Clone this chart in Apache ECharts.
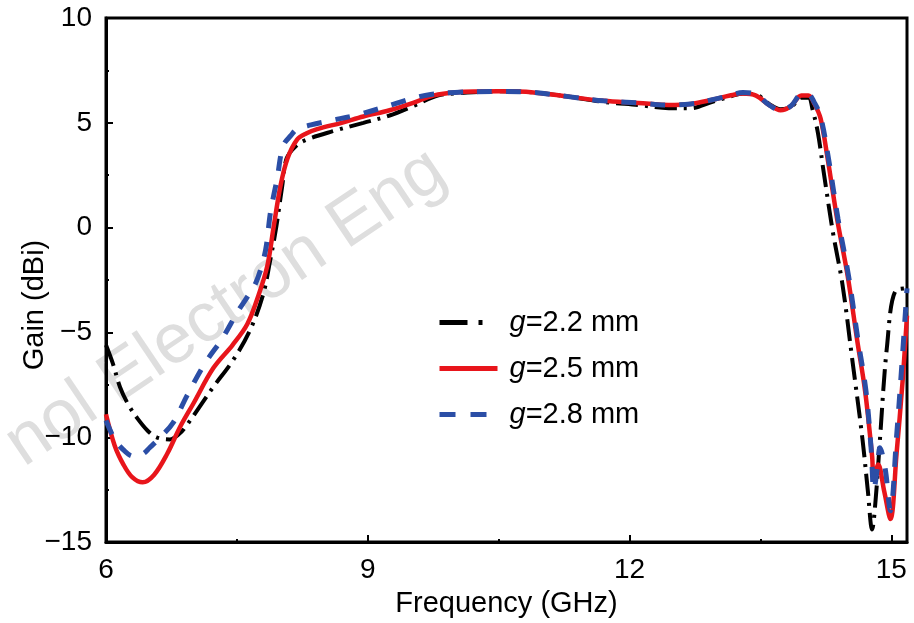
<!DOCTYPE html>
<html>
<head>
<meta charset="utf-8">
<script src="https://cdn.jsdelivr.net/npm/echarts@6/dist/echarts.min.js"></script>
<style>
html,body{margin:0;padding:0;background:#fff;}
#c{width:914px;height:623px;}
</style>
</head>
<body>
<div id="c"></div>
<script>
// ---- data ----
var seriesNames = ['g=2.2 mm', 'g=2.5 mm', 'g=2.8 mm'];
var xTicks = [6, 9, 12, 15];
var xMinorTicks = [7.5, 10.5, 13.5];
var yTicks = [-15, -10, -5, 0, 5, 10];

var freq22 = [6.0,6.08,6.16,6.25,6.36,6.48,6.58,6.73,6.85,6.93,7.08,7.23,7.46,7.65,7.8,7.88,7.95,8.02,8.07,8.18,8.3,8.6,8.95,9.25,9.52,9.8,10.0,10.5,10.9,11.3,11.7,12.1,12.45,12.7,12.95,13.15,13.3,13.45,13.6,13.73,13.85,13.97,14.05,14.1,14.16,14.22,14.33,14.44,14.55,14.67,14.73,14.78,14.82,14.87,14.95,15.05,15.18];
var gain22 = [-5.6,-6.5,-7.6,-8.4,-9.1,-9.7,-10.0,-10.1,-9.8,-9.4,-8.5,-7.6,-6.3,-4.9,-3.2,-1.6,0.0,2.0,3.3,3.9,4.2,4.6,5.0,5.35,5.8,6.3,6.4,6.5,6.45,6.25,6.0,5.85,5.7,5.7,6.0,6.25,6.4,6.35,5.9,5.65,5.75,6.2,6.2,5.6,4.5,2.8,-0.2,-2.7,-6.2,-10.1,-12.5,-14.4,-13.0,-10.1,-5.7,-3.0,-2.9];

var freq25 = [6.0,6.1,6.2,6.3,6.42,6.55,6.7,6.85,7.0,7.23,7.45,7.62,7.75,7.85,7.92,8.0,8.08,8.19,8.3,8.42,8.7,8.95,9.25,9.52,9.75,10.0,10.5,10.9,11.3,11.7,12.1,12.45,12.7,12.95,13.15,13.3,13.45,13.6,13.73,13.85,13.97,14.05,14.12,14.19,14.27,14.38,14.5,14.61,14.7,14.78,14.8,14.85,14.92,14.99,15.06,15.13,15.18];
var gain25 = [-8.9,-10.4,-11.3,-11.9,-12.15,-11.8,-10.8,-9.5,-8.4,-6.7,-5.6,-4.6,-3.2,-1.8,0.0,2.0,3.3,4.2,4.5,4.7,5.0,5.3,5.6,5.95,6.3,6.45,6.5,6.45,6.25,6.05,5.95,5.85,5.9,6.1,6.3,6.4,6.3,5.85,5.6,5.8,6.3,6.3,5.9,5.2,3.3,0.4,-2.3,-5.4,-7.8,-10.9,-12.0,-11.3,-12.6,-13.9,-10.8,-7.3,-4.2];

var freq28 = [6.0,6.1,6.2,6.31,6.42,6.5,6.6,6.77,6.93,7.13,7.33,7.51,7.62,7.72,7.8,7.84,7.88,7.92,7.96,8.03,8.12,8.19,8.35,8.57,8.9,9.29,9.5,9.72,10.0,10.5,10.9,11.3,11.7,12.1,12.45,12.7,12.95,13.15,13.3,13.45,13.6,13.73,13.85,13.97,14.05,14.12,14.19,14.28,14.39,14.51,14.62,14.71,14.77,14.8,14.84,14.87,14.93,14.99,15.06,15.12,15.18];
var gain28 = [-9.2,-10.1,-10.6,-10.9,-10.8,-10.5,-10.1,-9.3,-8.0,-6.5,-5.3,-4.0,-3.3,-2.6,-1.6,-0.8,0.6,1.5,2.3,3.9,4.4,4.7,4.9,5.1,5.4,5.88,6.15,6.35,6.45,6.5,6.45,6.25,6.05,5.95,5.85,5.9,6.1,6.3,6.45,6.35,5.85,5.6,5.8,6.35,6.35,5.95,5.3,3.3,0.4,-2.3,-5.4,-7.8,-10.6,-12.5,-11.5,-10.5,-11.5,-13.5,-10.0,-6.6,-2.9];

function zip(xs, ys) { return xs.map(function (x, i) { return [x, ys[i]]; }); }

var FONT = '"Liberation Sans", Arial, sans-serif';
var chart = echarts.init(document.getElementById('c'), null, { renderer: 'canvas' });

var option = {
  backgroundColor: '#fff',
  animation: false,
  grid: { left: 106, right: 7, top: 18, bottom: 77, show: true, borderColor: '#000', borderWidth: 3, backgroundColor: 'transparent' },
  legend: {
    orient: 'vertical', left: 432, top: 301, itemWidth: 58, itemHeight: 14, itemGap: 13,
    itemStyle: { opacity: 0 },
    data: [
      { name: seriesNames[0], lineStyle: { type: [28, 11, 4, 30], width: 5 } },
      { name: seriesNames[1], lineStyle: { width: 5 } },
      { name: seriesNames[2], lineStyle: { type: [16, 15], width: 5 } }
    ],
    formatter: function (n) { return '{i|g}' + n.slice(1); },
    textStyle: {
      fontFamily: FONT, fontSize: 29, color: '#000', lineHeight: 33, padding: [0, 0, 0, 7],
      rich: { i: { fontStyle: 'italic', fontFamily: FONT, fontSize: 29, color: '#000', lineHeight: 33 } }
    }
  },
  xAxis: [{
    type: 'value', min: 6, max: 15.18,
    name: 'Frequency (GHz)', nameLocation: 'middle', nameGap: 42,
    nameTextStyle: { fontFamily: FONT, fontSize: 29, color: '#000' },
    axisLine: { show: true, onZero: false, lineStyle: { color: '#000', width: 3 } },
    axisTick: { show: true, inside: true, length: 7, lineStyle: { color: '#000', width: 2 }, customValues: xTicks },
    axisLabel: { fontFamily: FONT, fontSize: 28, color: '#000', margin: 14, customValues: xTicks },
    splitLine: { show: false }
  }, {
    type: 'value', min: 6, max: 15.18, position: 'bottom',
    axisLine: { show: false, onZero: false },
    axisTick: { show: true, inside: true, length: 3, lineStyle: { color: '#000', width: 2 }, customValues: xMinorTicks },
    axisLabel: { show: false },
    splitLine: { show: false }
  }],
  yAxis: {
    type: 'value', min: -15, max: 10, interval: 5,
    axisLine: { show: true, onZero: false, lineStyle: { color: '#000', width: 3 } },
    axisTick: { show: true, inside: true, length: 7, lineStyle: { color: '#000', width: 2 } },
    minorTick: { show: true, splitNumber: 2, length: 3, lineStyle: { color: '#000', width: 2 } },
    axisLabel: {
      fontFamily: FONT, fontSize: 28, color: '#000', margin: 14,
      formatter: function (v) { return v < 0 ? '\u2212' + Math.abs(v) : String(v); }
    },
    splitLine: { show: false }
  },
  graphic: [
    {
      type: 'text', x: 226, y: 308, rotation: 0.593, z: -10, silent: true,
      style: { text: 'nol Electron Eng', fill: '#dedede', font: '70px ' + FONT, align: 'center', verticalAlign: 'middle' }
    },
    {
      type: 'text', x: 35, y: 305, rotation: Math.PI / 2, z: 10,
      style: { text: 'Gain (dBi)', fill: '#000', font: '29px ' + FONT, align: 'center', verticalAlign: 'middle' }
    }
  ],
  series: [
    {
      name: seriesNames[0], type: 'line', data: zip(freq22, gain22), showSymbol: false, symbol: 'none',
      smooth: 0.35, z: 3,
      lineStyle: { color: '#000', width: 4, type: [22, 7, 3, 7], cap: 'butt' },
      itemStyle: { color: '#000' }
    },
    {
      name: seriesNames[1], type: 'line', data: zip(freq25, gain25), showSymbol: false, symbol: 'none',
      smooth: 0.35, z: 4,
      lineStyle: { color: '#e8151b', width: 4.5, type: 'solid' },
      itemStyle: { color: '#e8151b' }
    },
    {
      name: seriesNames[2], type: 'line', data: zip(freq28, gain28), showSymbol: false, symbol: 'none',
      smooth: 0.35, z: 5,
      lineStyle: { color: '#2b4ea6', width: 5, type: [15, 14], cap: 'butt' },
      itemStyle: { color: '#2b4ea6' }
    }
  ]
};
chart.setOption(option);
</script>
</body>
</html>
